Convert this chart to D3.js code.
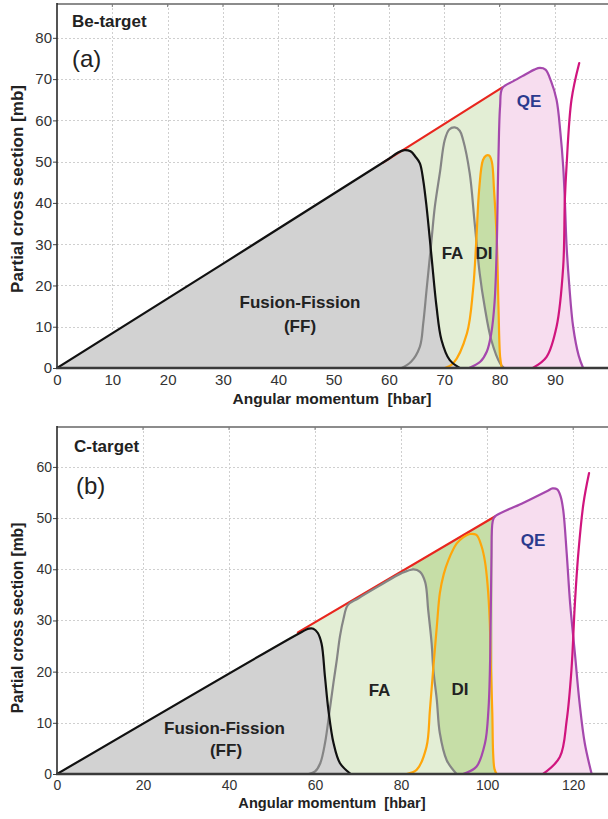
<!DOCTYPE html>
<html>
<head>
<meta charset="utf-8">
<script src="https://cdn.jsdelivr.net/npm/d3@7"></script>
<style>
  body { margin: 0; background: #fff; }
  svg { display: block; }
  text { font-family: "Liberation Sans", Arial, Helvetica, sans-serif; }
</style>
</head>
<body>
<svg id="chart" width="608" height="819"></svg>
<script>
// ---------- (a) Be-target : partial cross sections vs angular momentum ----------
const beTicksX = [0, 10, 20, 30, 40, 50, 60, 70, 80, 90];
const beTicksY = [0, 10, 20, 30, 40, 50, 60, 70, 80];

// total (envelope) partial cross section
const beEnvL = [0, 80.5];
const beEnvS = [0, 68.0];
// fusion-fission
const beFFL = [0, 60, 61.5, 62.8, 63.9, 64.8, 65.6, 66.2, 66.8, 67.7, 68.6, 69.5, 71.0, 72.8];
const beFFS = [0, 50.7, 52.1, 52.8, 52.5, 51.2, 49.6, 45.5, 39.1, 27, 14.9, 6.8, 1.9, 0];
// fast fission
const beFAL = [62.3, 64.0, 65.6, 66.2, 66.8, 67.7, 68.3, 69.2, 70.1, 70.9, 71.9, 72.8, 73.4, 74.6, 75.5, 76.4, 77.3, 78.5, 80.1, 80.8];
const beFAS = [0, 1.5, 5.2, 10.8, 18.9, 31, 39.1, 47.2, 55.3, 57.8, 58.3, 57.5, 55.3, 47.2, 35.1, 23, 14.9, 6.8, 1.1, 0];
// deep inelastic
const beDIL = [70.1, 71.6, 74.1, 75.2, 75.8, 76.3, 77.0, 77.6, 78.1, 78.6, 79.0, 79.5, 79.8, 80.1, 80.4];
const beDIS = [0, 1.1, 8.4, 18.9, 31, 43.1, 50.4, 51.5, 51.5, 50.0, 43.1, 31, 14.9, 2.7, 0];
// quasi-elastic
const beQEL = [74.5, 76.5, 77.7, 78.5, 79.1, 79.5, 79.7, 79.9, 80.1, 80.5, 82.5, 84.5, 86.3, 87.3, 88.3, 89.3, 90.3, 91.0, 91.5, 91.8, 92.1, 92.6, 93.3, 94.3, 95.1];
const beQES = [0, 1.5, 4, 8.4, 16, 30, 45, 57, 63.5, 67.8, 69.5, 71, 72.3, 72.7, 72.3, 69.5, 65, 57, 48.8, 40.7, 30, 20, 10, 3, 0];
// grazing curve
const beGrL = [86, 88.5, 90.3, 91.5, 91.8, 92.1, 93.0, 94.4];
const beGrS = [0, 2.7, 10, 24.5, 40.7, 48.8, 65, 73.9];

// ---------- (b) C-target ----------
const cTicksX = [0, 20, 40, 60, 80, 100, 120];
const cTicksY = [0, 10, 20, 30, 40, 50, 60];

const cEnvL = [0, 101.8];
const cEnvS = [0, 50.3];
const cFFL = [0, 57, 58.5, 59.6, 60.6, 61.5, 62.3, 63.1, 64.3, 65.8, 68.3];
const cFFS = [0, 27.8, 28.4, 28.4, 27.6, 25.5, 19, 12.5, 6, 2.1, 0];
const cFAL = [58.5, 60, 61.2, 62.3, 63.4, 64.3, 65.0, 65.8, 66.6, 67.6, 70, 75, 80, 82.9, 84.4, 85.6, 86.3, 87.1, 87.5, 88.3, 89.0, 90.6, 92.9];
const cFAS = [0, 0.5, 2.1, 6, 12.5, 18, 22, 27, 30.3, 33, 34.3, 36.8, 39.2, 40, 39.5, 37.5, 32, 25.5, 20.3, 14.5, 8, 2.7, 0];
const cDIL = [81.3, 83.6, 85.9, 86.7, 87.5, 88.3, 89.0, 89.9, 91.0, 92.9, 94.5, 96.0, 97.5, 98.7, 99.5, 100.1, 100.6, 100.9, 101.2, 101.4, 101.7, 102.2];
const cDIS = [0, 0.8, 5.3, 12.5, 20.9, 28.8, 35.3, 39, 41.8, 45, 46.3, 46.9, 46.7, 44.5, 41.5, 37, 30, 20, 12, 4, 1, 0];
const cQEL = [94.4, 97.5, 99.5, 100.3, 100.7, 101.0, 101.3, 101.8, 108, 114, 115.2, 116.3, 117.1, 117.7, 118.5, 119.3, 120.4, 121.5, 122.7, 124.3];
const cQES = [0, 1.4, 6, 12.5, 22.3, 41.8, 49.4, 50.3, 52.8, 55.3, 55.8, 55.6, 54.2, 51.5, 43.1, 33.3, 23.6, 13.8, 6, 0];
const cGrL = [113, 116.9, 118.5, 119.6, 120.4, 121.2, 122.4, 123.7];
const cGrS = [0, 3.3, 10.5, 20.3, 33.3, 43.1, 52.9, 58.8];
// l-range where the region between FA and QE is shaded as DI
const cGapL = [82.5, 101.3];

// ---------- styling ----------
const COL = {
  env: "#e8261e", ff: "#111111", fa: "#858585", di: "#ffa60a", qe: "#a548ad", gr: "#d0157e",
  ffFill: "#d2d2d2", faFill: "#e3eed5", diFill: "#c6dea7", qeFill: "#f7ddef",
  grid: "#cfcfcf", text: "#222", qeText: "#2b3a8e"
};

const zip = (L, S) => L.map((l, i) => ({ l, s: S[i] }));
const svg = d3.select("#chart");

function drawPanel(cfg) {
  const g = svg.append("g");
  const x = d3.scaleLinear().domain(cfg.xDomain).range([57, 608]);
  const y = d3.scaleLinear().domain(cfg.yDomain).range([cfg.yBase, cfg.yTop]);
  const id = "clip" + cfg.key;
  g.append("clipPath").attr("id", id).append("rect")
    .attr("x", 57).attr("y", cfg.yTop).attr("width", 608 - 57).attr("height", cfg.yBase - cfg.yTop);

  // grid
  const grid = g.append("g").attr("stroke", COL.grid).attr("stroke-width", 1).attr("stroke-dasharray", "2,2");
  grid.selectAll("line.v").data(cfg.ticksX.filter(d => d > 0)).join("line")
    .attr("x1", d => Math.round(x(d)) + 0.5).attr("x2", d => Math.round(x(d)) + 0.5)
    .attr("y1", cfg.yTop).attr("y2", cfg.yBase);
  grid.selectAll("line.h").data(cfg.ticksY.filter(d => d > 0)).join("line")
    .attr("y1", d => Math.round(y(d)) + 0.5).attr("y2", d => Math.round(y(d)) + 0.5)
    .attr("x1", 57).attr("x2", 608);

  const smooth = d3.curveCatmullRom.alpha(0.5);
  const area = c => d3.area().x(d => x(d.l)).y0(y(0)).y1(d => y(d.s)).curve(c);
  const line = c => d3.line().x(d => x(d.l)).y(d => y(d.s)).curve(c);

  const plot = g.append("g").attr("clip-path", `url(#${id})`);
  const env = zip(cfg.envL, cfg.envS);
  const envAt = d3.scaleLinear().domain(cfg.envL).range(cfg.envS);

  // shaded regions, back to front
  plot.append("path").datum(env).attr("d", area(d3.curveLinear)).attr("fill", COL.faFill);
  plot.append("path").datum(zip(cfg.qeL, cfg.qeS)).attr("d", area(smooth)).attr("fill", COL.qeFill);
  if (cfg.gapL) {
    const gap = cfg.gapL.map(l => ({ l, s: envAt(l) }));
    plot.append("path").datum(gap).attr("d", area(d3.curveLinear)).attr("fill", COL.diFill);
  }
  plot.append("path").datum(zip(cfg.diL, cfg.diS)).attr("d", area(smooth)).attr("fill", COL.diFill);
  plot.append("path").datum(zip(cfg.faL, cfg.faS)).attr("d", area(smooth)).attr("fill", COL.faFill);
  plot.append("path").datum(zip(cfg.ffL, cfg.ffS)).attr("d", area(smooth)).attr("fill", COL.ffFill);

  // envelope edge is shown only where it is not covered by the FF curve
  const lEnd = cfg.envL[cfg.envL.length - 1];
  const envEdge = [cfg.redFrom, lEnd].map(l => ({ l, s: envAt(l) }));

  const curves = [
    [envEdge, COL.env, d3.curveLinear],
    [zip(cfg.faL, cfg.faS), COL.fa, smooth],
    [zip(cfg.diL, cfg.diS), COL.di, smooth],
    [zip(cfg.qeL, cfg.qeS), COL.qe, smooth],
    [zip(cfg.ffL, cfg.ffS), COL.ff, smooth],
    [zip(cfg.grL, cfg.grS), COL.gr, smooth]
  ];
  curves.forEach(([data, col, c]) => {
    plot.append("path").datum(data).attr("d", line(c))
      .attr("fill", "none").attr("stroke", col).attr("stroke-width", 2.2)
      .attr("stroke-linejoin", "round").attr("stroke-linecap", "round");
  });

  // frame
  g.append("line").attr("x1", 57).attr("x2", 608).attr("y1", cfg.yTop).attr("y2", cfg.yTop)
    .attr("stroke", "#8c8c8c").attr("stroke-width", 2);
  g.selectAll("line.tt").data(cfg.ticksX.filter(d => d > 0)).join("line")
    .attr("x1", d => x(d)).attr("x2", d => x(d)).attr("y1", cfg.yTop).attr("y2", cfg.yTop + 3)
    .attr("stroke", "#777").attr("stroke-width", 1);

  // axes
  const yAxis = g.append("g").attr("transform", "translate(57,0)")
    .call(d3.axisLeft(y).tickValues(cfg.ticksY).tickSize(4).tickPadding(1).tickFormat(d3.format("d")));
  yAxis.select(".domain").remove();
  yAxis.selectAll(".tick line").attr("stroke", "#444");
  yAxis.selectAll("text").attr("font-size", cfg.tickFont).attr("fill", "#333")
    .style("font-family", '"Liberation Sans", Arial, sans-serif');

  const xAxis = g.append("g").attr("transform", `translate(0,${cfg.yBase})`)
    .call(d3.axisBottom(x).tickValues(cfg.ticksX).tickSize(0).tickPadding(6).tickFormat(d3.format("d")));
  xAxis.select(".domain").remove();
  xAxis.selectAll("text").attr("font-size", cfg.tickFont).attr("fill", "#333")
    .style("font-family", '"Liberation Sans", Arial, sans-serif');

  g.append("line").attr("x1", 57).attr("x2", 57).attr("y1", cfg.yTop - 1).attr("y2", cfg.yBase + 1)
    .attr("stroke", "#2a2a2a").attr("stroke-width", 1.6);
  g.append("line").attr("x1", 56).attr("x2", 608).attr("y1", cfg.yBase).attr("y2", cfg.yBase)
    .attr("stroke", "#3a3a3a").attr("stroke-width", 2.4);

  // axis titles
  g.append("text").attr("x", 332).attr("y", cfg.xTitleY).attr("text-anchor", "middle")
    .attr("font-weight", "bold").attr("font-size", cfg.xTitleFont).attr("fill", COL.text)
    .attr("xml:space", "preserve").text("Angular momentum  [hbar]");
  g.append("text").attr("transform", `translate(23,${cfg.yTitleY}) rotate(-90)`).attr("text-anchor", "middle")
    .attr("font-weight", "bold").attr("font-size", cfg.yTitleFont).attr("fill", COL.text)
    .text("Partial cross section [mb]");

  // panel titles and region labels
  g.append("text").attr("x", cfg.nameX).attr("y", cfg.nameY).attr("font-weight", "bold")
    .attr("font-size", 17).attr("fill", COL.text).text(cfg.name);
  g.append("text").attr("x", cfg.tagX).attr("y", cfg.tagY)
    .attr("font-size", 24).attr("fill", COL.text).text(cfg.tag);

  cfg.labels.forEach(lb => {
    g.append("text").attr("x", lb.x).attr("y", lb.y).attr("text-anchor", "middle")
      .attr("font-weight", "bold").attr("font-size", lb.size || 17)
      .attr("fill", lb.color || COL.text).text(lb.t);
  });
}

drawPanel({
  key: "be", xDomain: [0, 99.6], yDomain: [0, 88.2], yBase: 368, yTop: 4,
  ticksX: beTicksX, ticksY: beTicksY, redFrom: 59,
  envL: beEnvL, envS: beEnvS, ffL: beFFL, ffS: beFFS, faL: beFAL, faS: beFAS,
  diL: beDIL, diS: beDIS, qeL: beQEL, qeS: beQES, grL: beGrL, grS: beGrS,
  tickFont: 15, xTitleY: 404, xTitleFont: 15.5, yTitleY: 189, yTitleFont: 17,
  name: "Be-target", nameX: 72, nameY: 27, tag: "(a)", tagX: 72, tagY: 67,
  labels: [
    { t: "Fusion-Fission", x: 300, y: 308 },
    { t: "(FF)", x: 300, y: 332 },
    { t: "FA", x: 452.5, y: 259 },
    { t: "DI", x: 484, y: 259 },
    { t: "QE", x: 529, y: 107, color: COL.qeText }
  ]
});

drawPanel({
  key: "c", xDomain: [0, 128.1], yDomain: [0, 67.8], yBase: 774, yTop: 427,
  ticksX: cTicksX, ticksY: cTicksY, redFrom: 56,
  envL: cEnvL, envS: cEnvS, ffL: cFFL, ffS: cFFS, faL: cFAL, faS: cFAS,
  diL: cDIL, diS: cDIS, qeL: cQEL, qeS: cQES, grL: cGrL, grS: cGrS, gapL: cGapL,
  tickFont: 14, xTitleY: 808, xTitleFont: 14.6, yTitleY: 618, yTitleFont: 15.6,
  name: "C-target", nameX: 74, nameY: 452, tag: "(b)", tagX: 76, tagY: 494,
  labels: [
    { t: "Fusion-Fission", x: 224.5, y: 734 },
    { t: "(FF)", x: 226, y: 756 },
    { t: "FA", x: 379.5, y: 696 },
    { t: "DI", x: 460, y: 694.5 },
    { t: "QE", x: 533, y: 546, color: COL.qeText }
  ]
});
</script>
</body>
</html>
